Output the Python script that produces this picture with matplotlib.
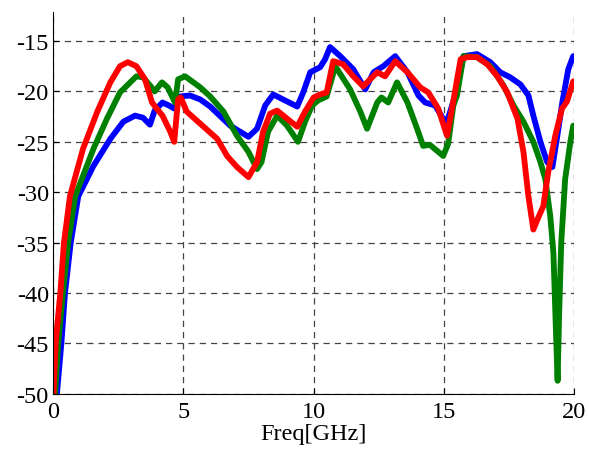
import numpy as np
import matplotlib.pyplot as plt

plt.rcParams['font.family'] = 'Liberation Serif'
plt.rcParams['axes.unicode_minus'] = False

# Frecuencia [GHz] y niveles [dB]
freq_azul = [0.15, 0.32, 0.46, 0.68, 0.97, 1.55, 2.2, 2.7, 3.15, 3.45, 3.72, 3.9, 4.2, 4.45, 4.65, 4.88, 5.25,
             5.65, 6.03, 6.8, 7.5, 7.83, 8.14, 8.45, 8.83, 9.37, 9.6, 9.87, 10.25, 10.44, 10.63, 11.02, 11.52,
             11.98, 12.3, 12.67, 13.13, 13.6, 14.02, 14.28, 14.66, 14.97, 15.12, 15.43, 15.75, 16.27, 16.78,
             17.16, 17.54, 17.93, 18.24, 18.43, 18.7, 18.96, 19.16, 19.35, 19.54, 19.77, 19.96]
s_azul = [-50, -45, -40, -35, -30.4, -27.4, -24.7, -23.0, -22.4, -22.6, -23.3, -21.9, -21.1, -21.4, -21.7, -20.5,
          -20.4, -20.8, -21.5, -23.4, -24.5, -23.7, -21.4, -20.3, -20.8, -21.5, -20.1, -18.1, -17.6, -16.8, -15.6,
          -16.5, -17.8, -19.8, -18.1, -17.5, -16.5, -18.1, -20.4, -21.1, -21.4, -22.7, -23.0, -20.4, -16.5, -16.3,
          -17.1, -18.1, -18.6, -19.3, -20.4, -22.4, -25.0, -27.0, -27.5, -24.4, -21.1, -17.8, -16.5]

freq_verde = [0.08, 0.2, 0.38, 0.58, 0.85, 1.55, 2.07, 2.57, 3.2, 3.45, 3.72, 3.9, 4.18, 4.4, 4.68, 4.8, 5.07,
              5.65, 6.03, 6.54, 7.06, 7.5, 7.83, 8.0, 8.25, 8.6, 8.98, 9.4, 9.67, 9.94, 10.17, 10.5, 10.83, 11.4,
              11.79, 12.05, 12.44, 12.6, 12.86, 13.2, 13.6, 13.97, 14.2, 14.46, 14.74, 14.97, 15.16, 15.36, 15.5,
              15.75, 16.27, 16.78, 17.28, 17.67, 18.05, 18.43, 18.7, 18.89, 19.08, 19.2, 19.3, 19.36, 19.42, 19.5,
              19.65, 19.85, 19.96]
s_verde = [-50, -45, -40, -35, -30.4, -25.7, -22.7, -20.1, -18.5, -18.6, -19.4, -20.0, -19.1, -19.6, -21.1, -18.8,
           -18.5, -19.6, -20.5, -22.0, -24.4, -26.0, -27.7, -27.0, -24.0, -22.4, -23.4, -25.0, -23.0, -21.4, -20.9,
           -20.5, -17.5, -19.8, -22.0, -23.7, -21.1, -20.6, -21.1, -19.1, -21.1, -23.7, -25.4, -25.3, -25.9, -26.4,
           -25.2, -21.4, -20.4, -16.5, -16.6, -17.5, -19.4, -21.4, -23.0, -25.0, -27.0, -28.7, -32.4, -36.0, -44.0,
           -48.7, -42.0, -35.0, -28.7, -25.0, -23.4]

freq_rojo = [0.02, 0.1, 0.28, 0.42, 0.65, 1.15, 1.7, 2.2, 2.57, 2.87, 3.2, 3.53, 3.8, 3.98, 4.2, 4.5, 4.65, 4.8,
             4.9, 5.13, 5.65, 6.3, 6.68, 7.06, 7.5, 7.83, 8.06, 8.33, 8.6, 8.98, 9.37, 9.67, 10.0, 10.25, 10.5,
             10.75, 11.13, 11.52, 11.9, 12.44, 12.74, 13.13, 13.6, 14.09, 14.4, 14.78, 15.12, 15.37, 15.64, 15.9,
             16.27, 16.66, 17.05, 17.43, 17.82, 18.05, 18.24, 18.43, 18.62, 18.81, 19.0, 19.27, 19.53, 19.72, 19.96]
s_rojo = [-50, -45, -40, -35, -30.4, -25.7, -22.0, -19.1, -17.5, -17.1, -17.5, -18.8, -21.1, -21.7, -22.4, -24.0,
          -25.0, -20.8, -20.6, -22.0, -23.2, -24.7, -26.4, -27.5, -28.5, -27.0, -24.0, -22.2, -21.9, -22.7, -23.5,
          -22.0, -20.6, -20.3, -20.1, -17.0, -17.3, -18.5, -19.5, -18.1, -18.5, -17.0, -18.1, -19.6, -20.1, -21.7,
          -24.4, -20.8, -16.8, -16.6, -16.6, -17.3, -18.5, -20.1, -22.7, -26.0, -30.4, -33.7, -32.5, -31.4, -28.0,
          -24.4, -21.7, -21.0, -19.0]

fig = plt.figure(figsize=(5.89, 4.56), dpi=100)
ax = fig.add_axes([0.09, 0.134, 0.885, 0.838])

for f, s, c in [(freq_azul, s_azul, 'blue'), (freq_verde, s_verde, 'green'), (freq_rojo, s_rojo, 'red')]:
    ax.plot(f, s, color=c, linewidth=4.2, solid_joinstyle='round', solid_capstyle='round')

ax.set_xlim(0, 20)
ax.set_ylim(-50, -12.1)
ax.set_xticks([0, 5, 10, 15, 20])
ax.set_yticks([-50, -45, -40, -35, -30, -25, -20, -15])
ax.grid(True, linestyle=(0, (5, 4)), color='#444444', linewidth=0.9)
ax.spines['top'].set_visible(False)
ax.spines['right'].set_visible(False)
ax.tick_params(direction='in', labelsize=17.5, length=4)
ax.tick_params(axis='x', pad=5)
ax.tick_params(axis='y', pad=3)
ax.set_xlabel('Freq[GHz]', fontsize=17.5, labelpad=1)

fig.savefig('out.png', dpi=100)
